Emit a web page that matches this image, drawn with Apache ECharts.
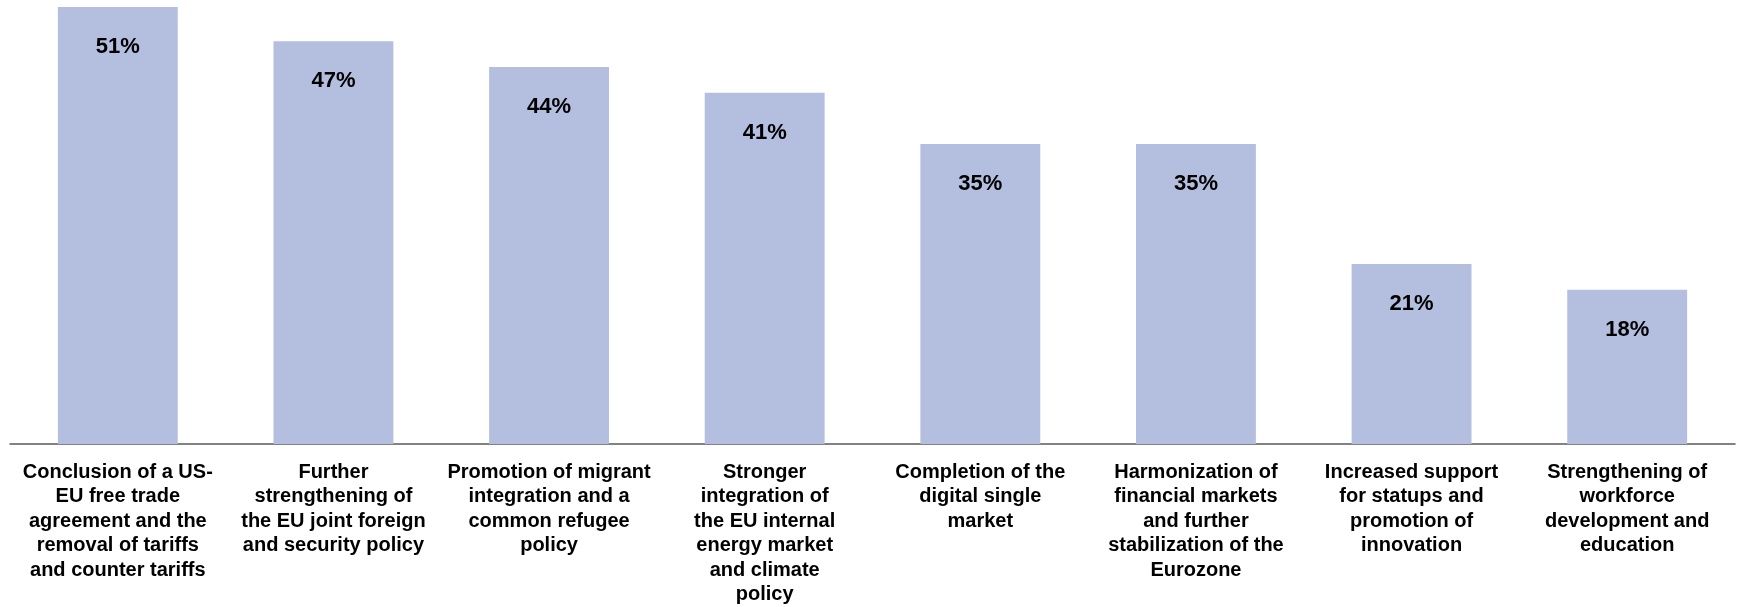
<!DOCTYPE html>
<html>
<head>
<meta charset="utf-8">
<script src="https://cdn.jsdelivr.net/npm/echarts@6/dist/echarts.min.js"></script>
<style>
html,body{margin:0;padding:0;background:#fff;}
#chart{width:1737px;height:607px;}
</style>
</head>
<body>
<div id="chart"></div>
<script>
const categories = [
  "Conclusion of a US-\nEU free trade\nagreement and the\nremoval of tariffs\nand counter tariffs",
  "Further\nstrengthening of\nthe EU joint foreign\nand security policy",
  "Promotion of migrant\nintegration and a\ncommon refugee\npolicy",
  "Stronger\nintegration of\nthe EU internal\nenergy market\nand climate\npolicy",
  "Completion of the\ndigital single\nmarket",
  "Harmonization of\nfinancial markets\nand further\nstabilization of the\nEurozone",
  "Increased support\nfor statups and\npromotion of\ninnovation",
  "Strengthening of\nworkforce\ndevelopment and\neducation"
];
const values = [51, 47, 44, 41, 35, 35, 21, 18];

const chart = echarts.init(document.getElementById('chart'), null, {renderer: 'canvas'});
chart.setOption({
  animation: false,
  backgroundColor: '#ffffff',
  grid: {left: 10, right: 2, top: 7, bottom: 162, containLabel: false},
  xAxis: {
    type: 'category',
    data: categories,
    axisLine: {show: true, lineStyle: {color: '#595959', width: 1.5}},
    axisTick: {show: false},
    axisLabel: {
      interval: 0,
      margin: 16,
      color: '#000000',
      fontFamily: 'Liberation Sans, Arial, sans-serif',
      fontWeight: 'bold',
      fontSize: 20,
      lineHeight: 24.5,
      align: 'center'
    }
  },
  yAxis: {
    type: 'value',
    min: 0,
    max: 51,
    show: false,
    splitLine: {show: false}
  },
  series: [{
    type: 'bar',
    data: values,
    barWidth: '55.6%',
    itemStyle: {color: '#B4BFE0'},
    label: {
      show: true,
      position: 'insideTop',
      distance: 29,
      formatter: '{c}%',
      color: '#000000',
      fontFamily: 'Liberation Sans, Arial, sans-serif',
      fontWeight: 'bold',
      fontSize: 22
    }
  }]
});
</script>
</body>
</html>
